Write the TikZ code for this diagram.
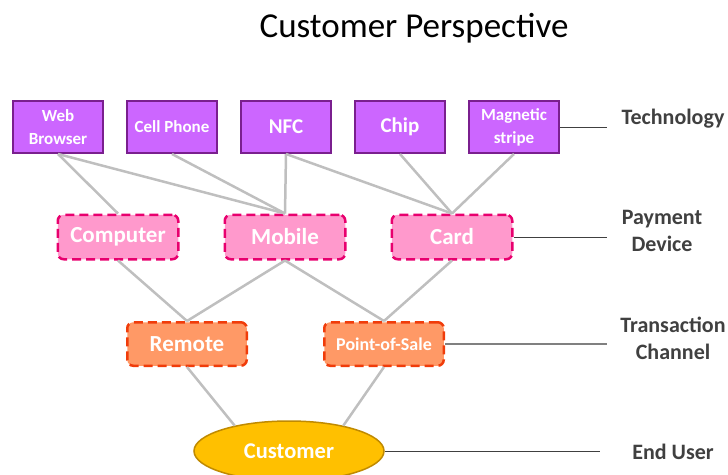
\documentclass[tikz,border=0pt]{standalone}
\usepackage{fontspec}
\setmainfont{Carlito}
\usetikzlibrary{positioning,shapes.geometric}

\begin{document}
\begin{tikzpicture}[
    x=1pt, y=-1pt,
    every node/.style={font=\bfseries},
    techbox/.style={draw=techedge, fill=techfill, line width=2pt, minimum width=90pt, minimum height=52pt, inner sep=0pt, align=center, text=white, font=\bfseries\fontsize{21}{24}\selectfont},
    smalltext/.style={font=\bfseries\fontsize{17}{23}\selectfont},
    devbox/.style={draw=devedge, fill=devfill, line width=2.5pt, dash pattern=on 9pt off 5pt, rounded corners=6pt, minimum width=120.5pt, minimum height=44.5pt, inner sep=0pt, text=white, font=\bfseries\fontsize{23}{24}\selectfont},
    chanbox/.style={draw=chanedge, fill=chanfill, line width=2.5pt, dash pattern=on 9pt off 5pt, rounded corners=6pt, minimum width=119.5pt, minimum height=43.5pt, inner sep=0pt, text=white, font=\bfseries\fontsize{23}{24}\selectfont},
    userell/.style={ellipse, draw=useredge, fill=userfill, line width=1.5pt, minimum width=190pt, minimum height=60pt, inner sep=0pt, text=white, font=\bfseries\fontsize{22.5}{24}\selectfont},
    layer/.style={text=labelgray, align=center, font=\bfseries\fontsize{22}{27}\selectfont},
    link/.style={draw=linkgray, line width=2.5pt},
    tag/.style={draw=labelgray, line width=1pt}
]
\definecolor{techfill}{HTML}{CC66FF}
\definecolor{techedge}{HTML}{7A1F8E}
\definecolor{devfill}{HTML}{FF99CC}
\definecolor{devedge}{HTML}{E8006E}
\definecolor{chanfill}{HTML}{FF9966}
\definecolor{chanedge}{HTML}{F03C0A}
\definecolor{userfill}{HTML}{FFC000}
\definecolor{useredge}{HTML}{C08A00}
\definecolor{linkgray}{HTML}{BFBFBF}
\definecolor{labelgray}{HTML}{404040}

\useasboundingbox (0,0) rectangle (728,474);

% Titel
\node[font=\fontsize{35}{38}\selectfont, text=black] (title) at (414,28) {Customer Perspective};

% Technologie
\node[techbox, smalltext] (web) at (58,127) {Web\\Browser};
\node[techbox, smalltext, right=22pt of web] (cell) {Cell Phone};
\node[techbox, right=22pt of cell] (nfc) {NFC};
\node[techbox, right=22pt of nfc] (chip) {Chip};
\node[techbox, smalltext, right=22pt of chip] (mag) {Magnetic\\stripe};

% Zahlungsgeraete
\node[devbox] (computer) at (118,237) {Computer};
\node[devbox, right=44pt of computer] (mobile) {Mobile};
\node[devbox, right=44pt of mobile] (card) {Card};

% Kanaele
\node[chanbox] (remote) at (187,344) {Remote};
\node[chanbox, right=75pt of remote, font=\bfseries\fontsize{18}{24}\selectfont] (pos) {Point-of-Sale};

% Kunde
\node[userell] (cust) at (289,451) {Customer};

% Ebenen rechts
\node[layer] (ltech) at (673,119) {Technology};
\node[layer] (ldev) at (662,231) {Payment\\Device};
\node[layer] (lchan) at (673,338) {Transaction\\Channel};
\node[layer] (luser) at (673,452) {End User};

\coordinate (etech) at (607,127);
\coordinate (edev) at (607,237);
\coordinate (echan) at (607,344);
\coordinate (euser) at (600,451);

% Verbindungen
\draw[link] (web.south) -- (computer.north);
\draw[link] (web.south) -- (mobile.north);
\draw[link] (cell.south) -- (mobile.north);
\draw[link] (nfc.south) -- (mobile.north);
\draw[link] (nfc.south) -- (card.north);
\draw[link] (chip.south) -- (card.north);
\draw[link] (mag.south) -- (card.north);

\draw[link] (computer.south) -- (remote.north);
\draw[link] (mobile.south) -- (remote.north);
\draw[link] (mobile.south) -- (pos.north);
\draw[link] (card.south) -- (pos.north);

\draw[link] (remote.south) -- (cust.155);
\draw[link] (pos.south) -- (cust.25);

% Ebenenlinien
\draw[tag] (mag.east) -- (etech);
\draw[tag] (card.east) -- (edev);
\draw[tag, draw=gray, line width=1.5pt] (pos.east) -- (echan);
\draw[tag] (cust.east) -- (euser);
\end{tikzpicture}
\end{document}
